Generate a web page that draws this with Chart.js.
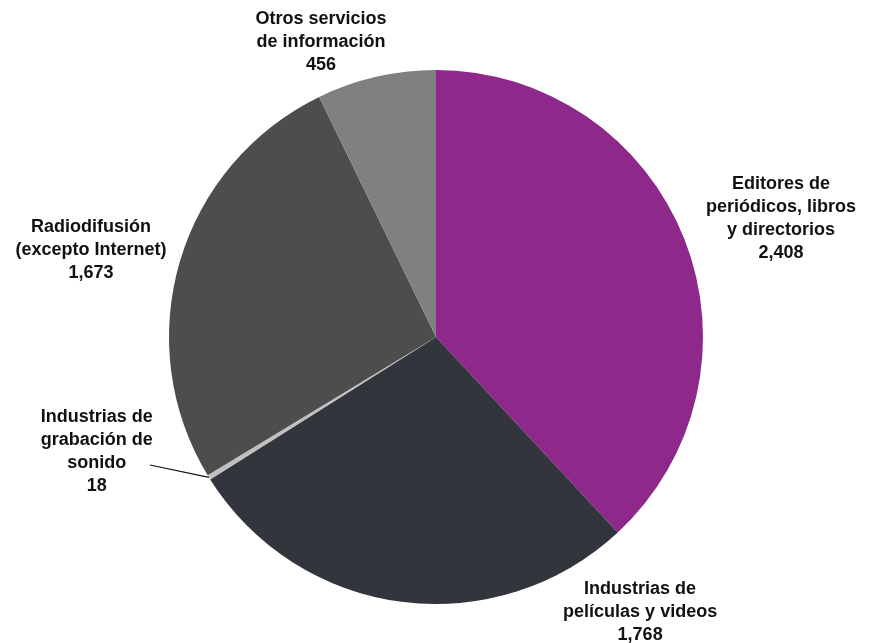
<!DOCTYPE html>
<html>
<head>
<meta charset="utf-8">
<script src="https://cdn.jsdelivr.net/npm/chart.js@4/dist/chart.umd.min.js"></script>
<style>
  html, body { margin: 0; padding: 0; background: #ffffff; }
  #wrap { width: 875px; height: 643px; position: relative; }
</style>
</head>
<body>
<div id="wrap"><canvas id="c" width="875" height="643"></canvas></div>
<script>
// ---- Data ----
const categories = [
  "Editores de periódicos, libros y directorios",
  "Industrias de películas y videos",
  "Industrias de grabación de sonido",
  "Radiodifusión (excepto Internet)",
  "Otros servicios de información"
];
const labelLines = [
  ["Editores de", "periódicos, libros", "y directorios"],
  ["Industrias de", "películas y videos"],
  ["Industrias de", "grabación de", "sonido"],
  ["Radiodifusión", "(excepto Internet)"],
  ["Otros servicios", "de información"]
];
const values = [2408, 1768, 18, 1673, 456];
const valueLabels = ["2,408", "1,768", "18", "1,673", "456"];

const colors = ["#8E288B", "#32353C", "#BFBFBF", "#4D4D4D", "#808080"];

// label placement (style): anchor at factor*R along mid-angle, plus offsets
const labelPlacement = [
  { f: 1.3, dx: 22, dy: 8 },
  { f: 1.3, dx: 249, dy: -69 },
  { f: 1.3, dx: -44, dy: -68, leader: { x: 150, y: 465 } },
  { f: 1.3, dx: -12, dy: 11 },
  { f: 1.3, dx: -37, dy: 43 }
];

const outsideLabels = {
  id: 'outsideLabels',
  afterDraw(chart) {
    const ctx = chart.ctx;
    const meta = chart.getDatasetMeta(0);
    ctx.save();
    ctx.font = 'bold 18px "Liberation Sans", Arial, sans-serif';
    ctx.fillStyle = '#111111';
    ctx.textAlign = 'center';
    ctx.textBaseline = 'middle';
    const lh = 23;
    meta.data.forEach((arc, i) => {
      const p = arc.getProps(['x', 'y', 'startAngle', 'endAngle', 'outerRadius'], true);
      const mid = (p.startAngle + p.endAngle) / 2;
      const pl = labelPlacement[i];
      const ax = p.x + Math.cos(mid) * p.outerRadius * pl.f + pl.dx;
      const ay = p.y + Math.sin(mid) * p.outerRadius * pl.f + pl.dy;
      const lines = labelLines[i].concat([valueLabels[i]]);
      const top = ay - (lines.length - 1) * lh / 2;
      lines.forEach((t, k) => ctx.fillText(t, ax, top + k * lh));
      if (pl.leader) {
        const ex = p.x + Math.cos(mid) * p.outerRadius;
        const ey = p.y + Math.sin(mid) * p.outerRadius;
        ctx.beginPath();
        ctx.strokeStyle = '#111111';
        ctx.lineWidth = 1.2;
        ctx.moveTo(pl.leader.x, pl.leader.y);
        ctx.lineTo(ex, ey);
        ctx.stroke();
      }
    });
    ctx.restore();
  }
};

new Chart(document.getElementById('c'), {
  type: 'pie',
  data: {
    labels: categories,
    datasets: [{
      data: values,
      backgroundColor: colors,
      borderWidth: 0
    }]
  },
  options: {
    responsive: false,
    animation: false,
    layout: { padding: { top: 70, bottom: 39, left: 169, right: 172 } },
    plugins: {
      legend: { display: false },
      tooltip: { enabled: false }
    }
  },
  plugins: [outsideLabels]
});
</script>
</body>
</html>
